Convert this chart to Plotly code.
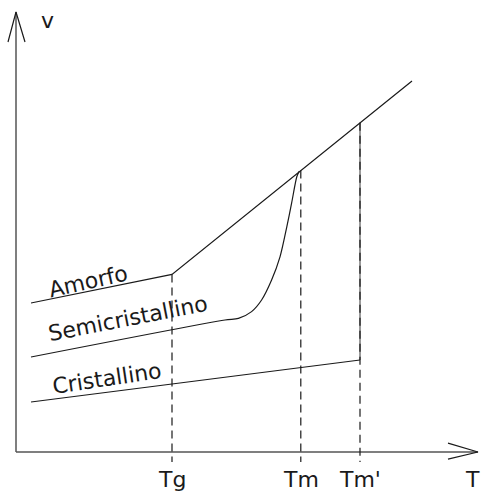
import plotly.graph_objects as go

# ---- data (schematic units: T horizontal, v vertical) ----
T_tick_names = ["Tg", "Tm", "Tm'"]
T_ticks = [3.9, 7.12, 8.6]

T_amorfo = [0.375, 3.9, 9.9]
v_amorfo = [3.725, 4.44, 9.275]

T_semi = [0.375, 5.225, 5.56, 5.89, 6.14, 6.39, 6.6, 6.77, 6.89, 7.02, 7.08]
v_semi = [2.375, 3.3, 3.34, 3.51, 3.8, 4.3, 4.88, 5.63, 6.22, 6.88, 7.02]

T_crist = [0.375, 8.6]
v_crist = [1.25, 2.3]

v_tops = [4.44, 7.04, 8.23]   # where the dashed verticals start
v_cryst_at_tmp = 2.3
v_bottom = -0.25

T_axis_end = 11.55
v_axis_end = 11.0

labels = ["Amorfo", "Semicristallino", "Cristallino"]
label_T = [1.8, 2.8, 2.275]
label_v = [4.27, 3.35, 1.83]
label_angle = [-12.5, -11, -8.5]

FONT = "DejaVu Sans"
FS = 22
INK = "#1a1a1a"
AXC = "#555555"

fig = go.Figure()

def line(x, y, color=INK, width=1.2, dash=None, shape="linear"):
    fig.add_trace(go.Scatter(x=x, y=y, mode="lines", hoverinfo="skip",
                             line=dict(color=color, width=width, dash=dash, shape=shape,
                                       smoothing=0.8 if shape == "spline" else None),
                             showlegend=False))

# axes
line([0, 0], [0, v_axis_end], AXC, 1.5)
line([0, T_axis_end], [0, 0], AXC, 1.5)
# arrow heads (open V)
line([-0.2, 0, 0.225], [v_axis_end - 0.75, v_axis_end, v_axis_end - 0.75], INK, 1.2)
line([T_axis_end - 0.75, T_axis_end, T_axis_end - 0.75], [0.22, 0, -0.18], INK, 1.2)

# Tm' solid segment
line([T_ticks[2], T_ticks[2]], [v_cryst_at_tmp, v_tops[2]], AXC, 1.2)

# dashed verticals
for t, vt in zip(T_ticks, v_tops):
    line([t, t], [vt, v_bottom], INK, 1.2, dash="8px,5px")

# curves
line(T_amorfo, v_amorfo)
line(T_semi, v_semi, shape="spline")
line(T_crist, v_crist)

ann = []
for name, t in zip(T_tick_names, T_ticks):
    ann.append(dict(x=t, y=-0.33, text=name, showarrow=False, xanchor="center", yanchor="top",
                    font=dict(family=FONT, size=FS, color=INK)))
ann.append(dict(x=11.4, y=-0.33, text="T", showarrow=False, xanchor="center", yanchor="top",
                font=dict(family=FONT, size=FS, color=INK)))
ann.append(dict(x=0.79, y=10.8, text="v", showarrow=False, xanchor="center", yanchor="middle",
                font=dict(family=FONT, size=FS, color=INK)))
for name, t, v, a in zip(labels, label_T, label_v, label_angle):
    ann.append(dict(x=t, y=v, text=name, showarrow=False, textangle=a,
                    xanchor="center", yanchor="middle",
                    font=dict(family=FONT, size=FS, color=INK)))

# figure fills the whole 482x491 window (body margin removed below)
fig.update_layout(
    width=482, height=491,
    margin=dict(l=0, r=0, t=0, b=0),
    paper_bgcolor="white", plot_bgcolor="white",
    xaxis=dict(range=[-0.4, 11.65], visible=False, fixedrange=True),
    yaxis=dict(range=[-0.975, 11.3], visible=False, fixedrange=True),
    annotations=ann,
)

fig.write_html("out.html", config={"displayModeBar": False},
               post_script="document.documentElement.style.overflow='hidden';"
                           "document.body.style.overflow='hidden';"
                           "document.body.style.margin='0';")
